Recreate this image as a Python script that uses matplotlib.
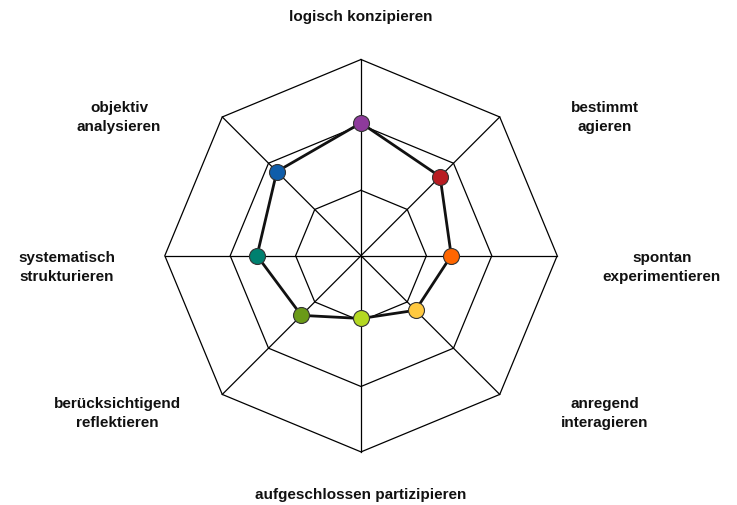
import numpy as np
import matplotlib
matplotlib.use("Agg")
import matplotlib.pyplot as plt

# Axes of the octagon, clockwise from the top
labels = ["logisch konzipieren", "bestimmt\nagieren", "spontan\nexperimentieren",
          "anregend\ninteragieren", "aufgeschlossen partizipieren",
          "berücksichtigend\nreflektieren", "systematisch\nstrukturieren",
          "objektiv\nanalysieren"]
values = [2.03, 1.71, 1.38, 1.18, 0.96, 1.29, 1.59, 1.82]
colors = ["#8E3A9C", "#B81C22", "#FF6600", "#FFC940", "#B4D823", "#6A9A18",
          "#00806F", "#0F5DAA"]
levels = [1, 2, 3]

# label centres (data units), placed by eye
label_pos = [(0.0, 3.66), (3.73, 2.13), (4.6, -0.16), (3.73, -2.4),
             (0.0, -3.64), (-3.72, -2.4), (-4.5, -0.16), (-3.7, 2.13)]

n = len(labels)
ang = np.pi / 2 - np.arange(n) * 2 * np.pi / n
ux, uy = np.cos(ang), np.sin(ang)

scale = 65.4  # px per unit
cx, cy = 361, 249.3  # centre in px from bottom-left
W, H = 737, 506

fig = plt.figure(figsize=(W / 100, H / 100), dpi=100)
ax = fig.add_axes([0, 0, 1, 1])
ax.set_xlim(-cx / scale, (W - cx) / scale)
ax.set_ylim(-cy / scale, (H - cy) / scale)
ax.axis("off")

# rings and spokes
for lv in levels:
    ax.plot(np.append(ux, ux[0]) * lv, np.append(uy, uy[0]) * lv,
            color="black", lw=0.9, zorder=1)
for i in range(n):
    ax.plot([0, ux[i] * levels[-1]], [0, uy[i] * levels[-1]],
            color="black", lw=0.9, zorder=1)

# data polygon
v = np.array(values)
px, py = ux * v, uy * v
ax.plot(np.append(px, px[0]), np.append(py, py[0]), color="#111111", lw=2.0, zorder=2)
for i in range(n):
    ax.plot(px[i], py[i], "o", ms=11.5, color=colors[i], mec="#333333",
            mew=0.8, zorder=3)

for lab, (tx, ty) in zip(labels, label_pos):
    ax.text(tx, ty, lab, ha="center", va="center", fontsize=11,
            fontweight="bold", family="Liberation Sans", linespacing=1.45,
            color="#111111")

fig.savefig("out.png", dpi=100)
